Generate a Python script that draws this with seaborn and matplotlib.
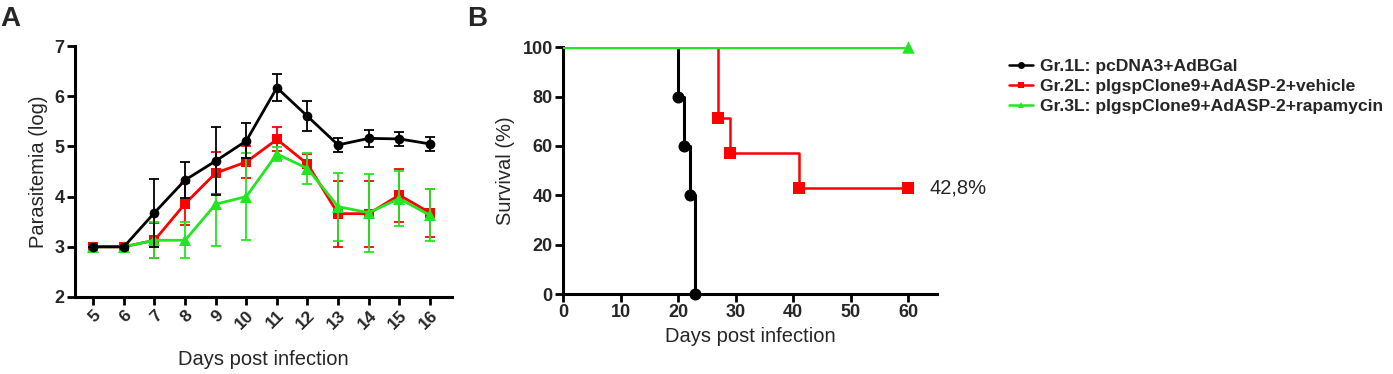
import numpy as np
import pandas as pd
import matplotlib
matplotlib.use("Agg")
import matplotlib.pyplot as plt
from matplotlib.lines import Line2D
import seaborn as sns

sns.set_style("ticks")
plt.rcParams['font.family'] = ['Liberation Sans', 'DejaVu Sans']

# ---------------- data ----------------
days = [5, 6, 7, 8, 9, 10, 11, 12, 13, 14, 15, 16]
g1_mean = [3.0, 3.0, 3.68, 4.33, 4.71, 5.11, 6.17, 5.60, 5.03, 5.16, 5.15, 5.05]
g1_err = [0.0, 0.0, 0.68, 0.36, 0.68, 0.35, 0.27, 0.30, 0.14, 0.17, 0.14, 0.14]
g2_mean = [3.0, 3.0, 3.13, 3.86, 4.47, 4.69, 5.14, 4.65, 3.66, 3.66, 4.03, 3.68]
g2_err = [0.0, 0.0, 0.35, 0.42, 0.42, 0.32, 0.24, 0.20, 0.66, 0.66, 0.53, 0.48]
g3_mean = [3.0, 3.0, 3.13, 3.13, 3.85, 4.00, 4.85, 4.56, 3.80, 3.68, 3.96, 3.63]
g3_err = [0.0, 0.0, 0.36, 0.36, 0.83, 0.86, 0.14, 0.30, 0.68, 0.78, 0.55, 0.52]

# survival (step) curves
s1_days = [0, 20, 21, 22, 23]
s1_surv = [100, 80, 60, 40, 0]
s2_days = [0, 27, 29, 41, 60]
s2_surv = [100, 71.4, 57.1, 42.8, 42.8]
s3_days = [0, 60]
s3_surv = [100, 100]

labels = ["Gr.1L: pcDNA3+AdBGal",
          "Gr.2L: pIgspClone9+AdASP-2+vehicle",
          "Gr.3L: pIgspClone9+AdASP-2+rapamycin"]
colors = ["#000000", "#ff0000", "#22e622"]
markers = ["o", "s", "^"]

fig = plt.figure(figsize=(13.93, 3.74), dpi=100)
axA = fig.add_axes([0.0538, 0.2059, 0.2706, 0.671])
axB = fig.add_axes([0.4042, 0.2139, 0.2685, 0.660])

# ---------------- panel A ----------------
groupsA = [(g1_mean, g1_err), (g2_mean, g2_err), (g3_mean, g3_err)]
zorders = [5, 3, 4]
for (m, e), c, mk, lab, z in zip(groupsA, colors, markers, labels, zorders):
    df = pd.DataFrame({"day": days, "val": m})
    axA.errorbar(days, m, yerr=e, fmt="none", ecolor=c, elinewidth=1.3,
                 capsize=3.5, capthick=1.3, zorder=z)
    sns.lineplot(data=df, x="day", y="val", ax=axA, color=c, marker=mk,
                 markersize=7 if mk != "^" else 8, markeredgewidth=0,
                 linewidth=2, zorder=z + 0.5)

axA.set_xlim(4.4, 16.72)
axA.set_ylim(2, 7)
axA.set_xticks(days)
axA.set_xticklabels([str(d) for d in days], rotation=45, ha="right",
                    rotation_mode="anchor", fontweight="bold", fontsize=12.5)
axA.set_yticks([2, 3, 4, 5, 6, 7])
axA.set_yticklabels(["2", "3", "4", "5", "6", "7"], fontweight="bold", fontsize=13)
axA.set_xlabel("Days post infection", fontsize=14.5, labelpad=13)
axA.set_ylabel("Parasitemia (log)", fontsize=14.5, labelpad=5)

# ---------------- panel B ----------------
survB = [(s1_days, s1_surv), (s2_days, s2_surv), (s3_days, s3_surv)]
lws = [2.2, 1.8, 2.4]
zB = [3, 4, 5]
for (d, s), c, mk, lab, lw, z in zip(survB, colors, markers, labels, lws, zB):
    df = pd.DataFrame({"day": d, "surv": s})
    sns.lineplot(data=df, x="day", y="surv", ax=axB, color=c,
                 drawstyle="steps-post", linewidth=lw, zorder=z)
    sns.scatterplot(data=df.iloc[1:], x="day", y="surv", ax=axB, color=c,
                    marker=mk, s=75 if mk != "^" else 80, linewidth=0,
                    zorder=z + 0.5, clip_on=False)

axB.text(63.6, s2_surv[-1], "42,8%", fontsize=14.5, va="center", ha="left")
axB.set_xlim(0, 65)
axB.set_ylim(0, 100)
axB.set_xticks([0, 10, 20, 30, 40, 50, 60])
axB.set_xticklabels(["0", "10", "20", "30", "40", "50", "60"],
                    fontweight="bold", fontsize=13)
axB.set_yticks([0, 20, 40, 60, 80, 100])
axB.set_yticklabels(["0", "20", "40", "60", "80", "100"],
                    fontweight="bold", fontsize=13)
axB.set_xlabel("Days post infection", fontsize=14.5, labelpad=4)
axB.set_ylabel("Survival (%)", fontsize=14.5, labelpad=5)

for ax in (axA, axB):
    sns.despine(ax=ax)
    for sp in ("left", "bottom"):
        ax.spines[sp].set_linewidth(2.2)
        ax.spines[sp].set_color("black")
    ax.tick_params(axis="both", which="major", width=2.0, length=5.5,
                   direction="out", color="black", pad=2)
    ax.grid(False)
    if ax.get_legend() is not None:
        ax.get_legend().remove()

# ---------------- legend ----------------
handles = [Line2D([0], [0], color=c, marker=mk, markersize=5, linewidth=1.8,
                  markeredgewidth=0) for c, mk in zip(colors, markers)]
fig.legend(handles, labels, loc="upper left", bbox_to_anchor=(0.713, 0.885),
           frameon=False, prop={"weight": "bold", "size": 12.6},
           handlelength=1.35, handletextpad=0.45, labelspacing=0.27)

# ---------------- panel labels ----------------
fig.text(0.0, 0.985, "A", fontsize=20, fontweight="bold", va="top", ha="left")
fig.text(0.3355, 0.985, "B", fontsize=20, fontweight="bold", va="top", ha="left")

fig.savefig("out.png", dpi=100)
